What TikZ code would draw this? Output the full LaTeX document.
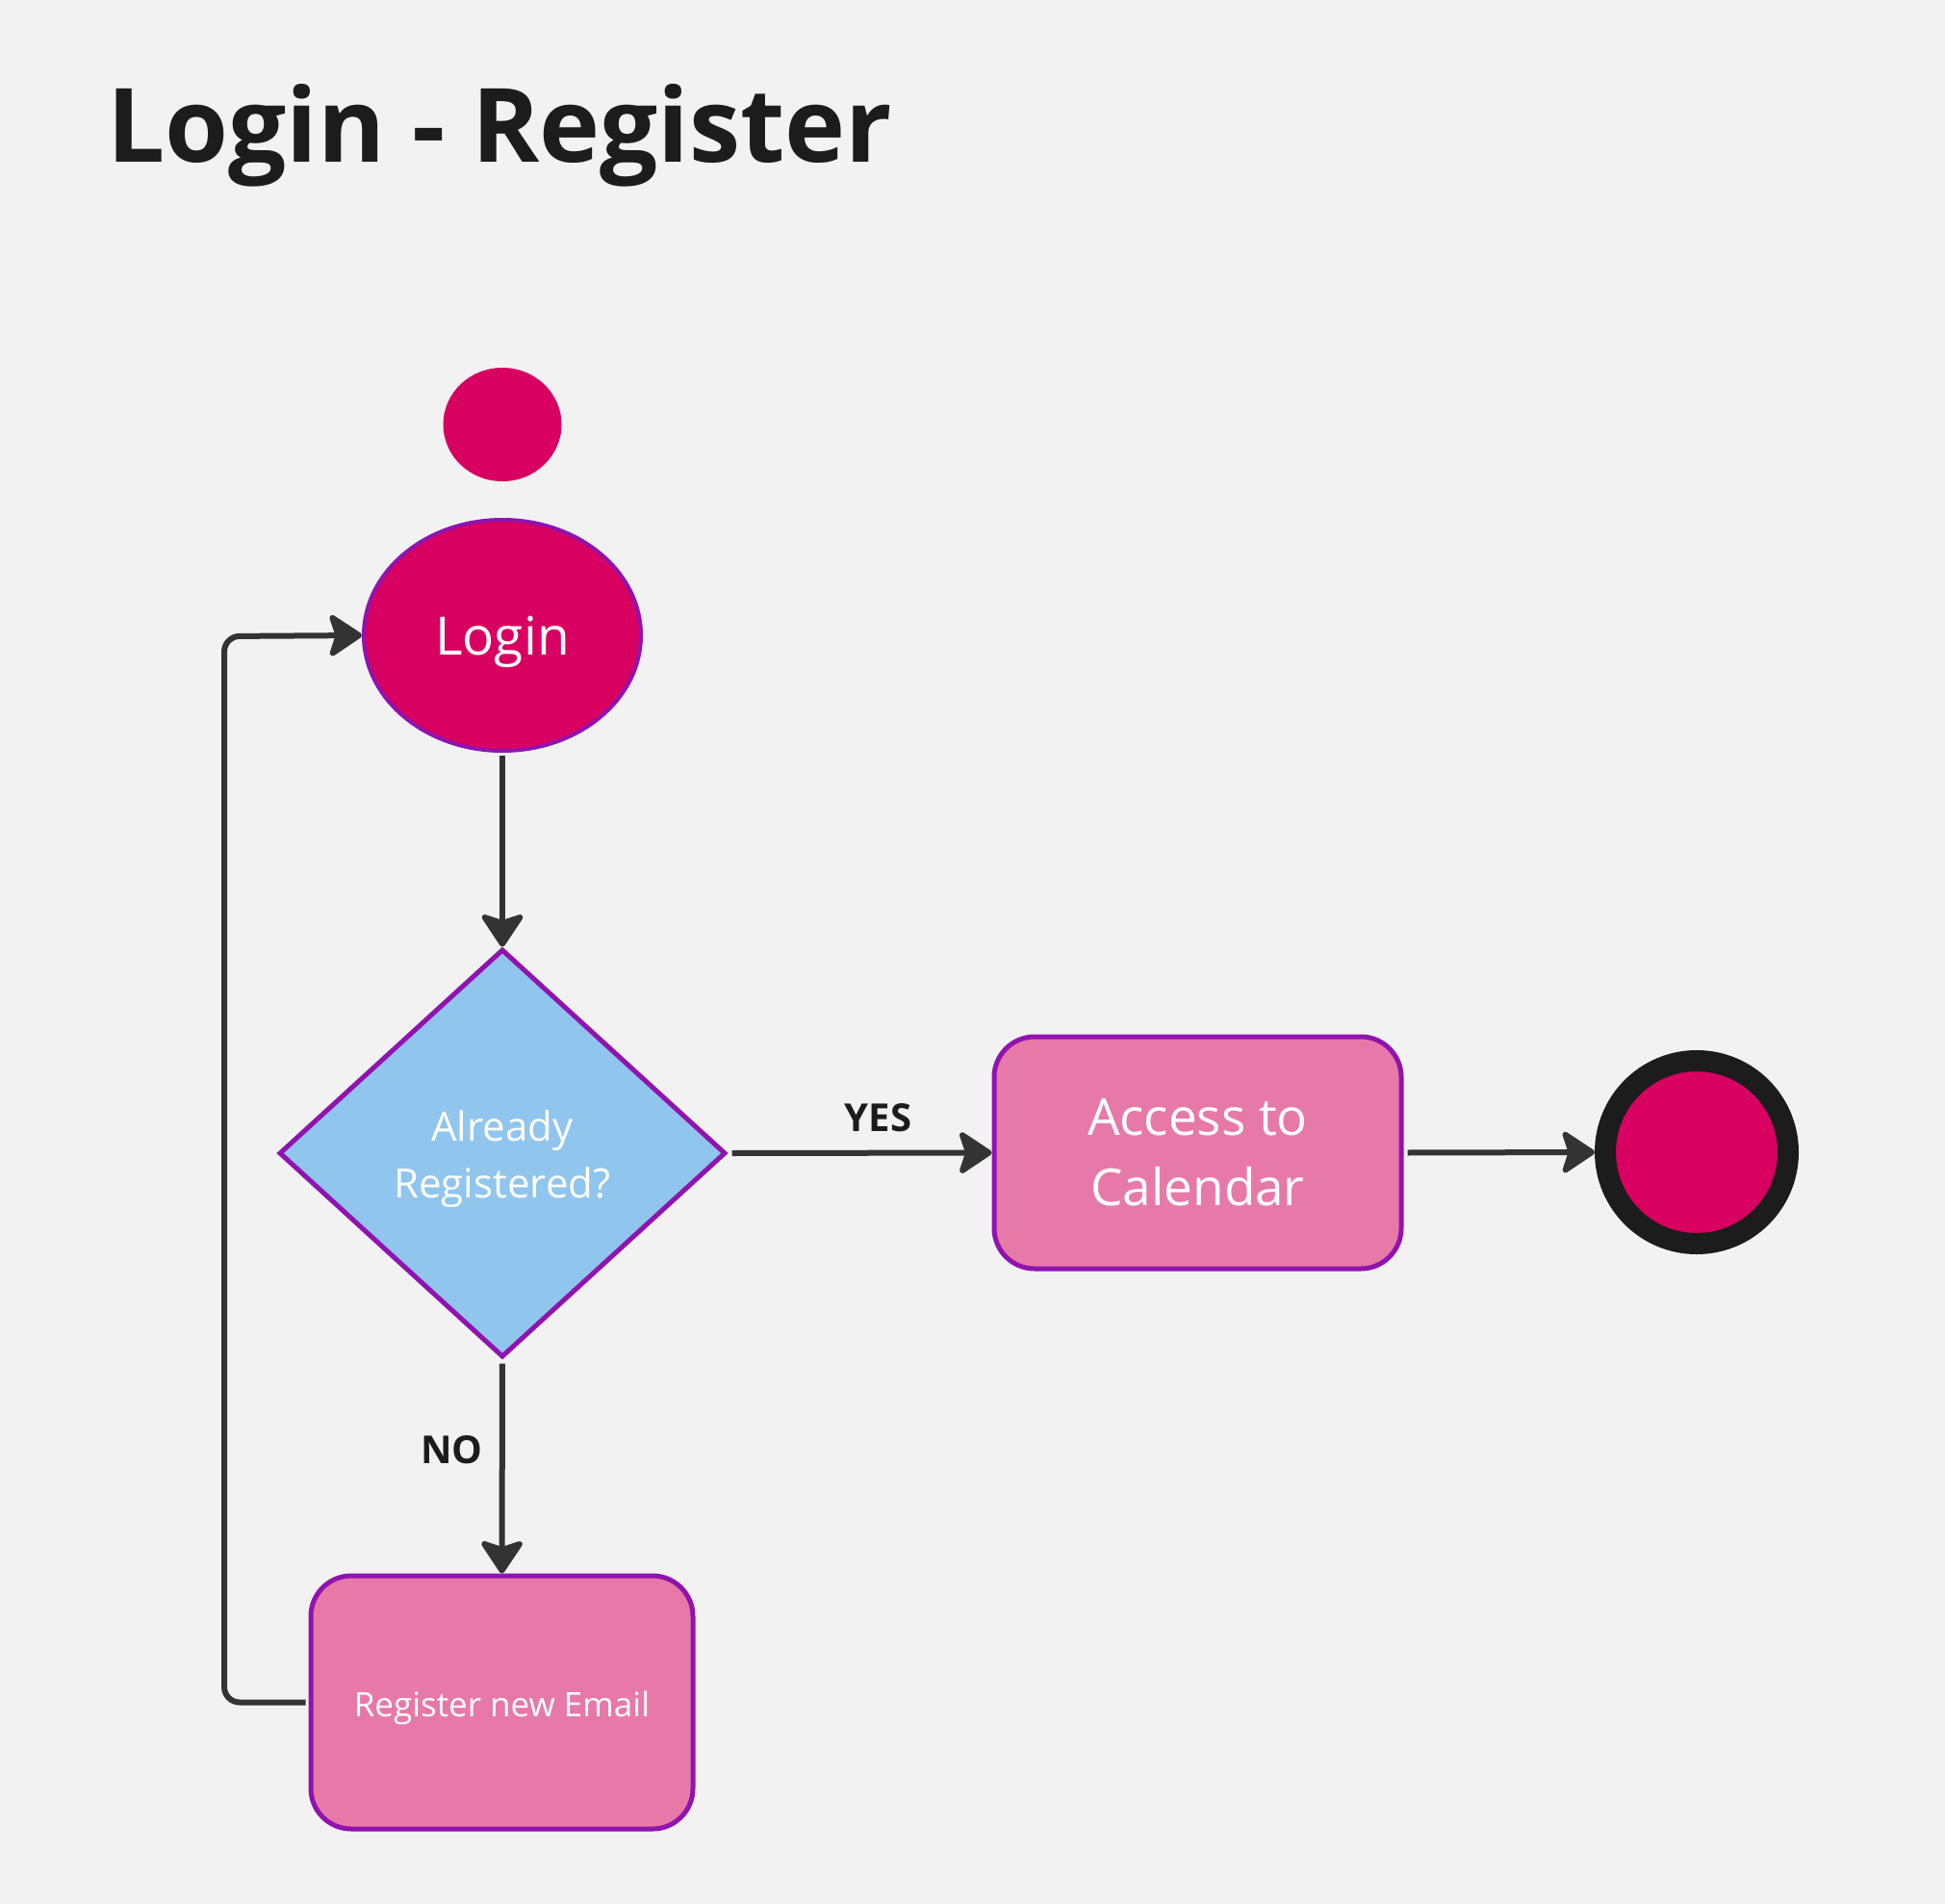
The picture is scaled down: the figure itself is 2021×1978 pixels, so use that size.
\documentclass[tikz,border=0pt]{standalone}
\usepackage{fontspec}
\setmainfont{Open Sans}
\usetikzlibrary{shapes.geometric,arrows.meta}
\definecolor{bg}{HTML}{F2F2F2}
\definecolor{magentafill}{HTML}{D80060}
\definecolor{pinkfill}{HTML}{E779A8}
\definecolor{bluefill}{HTML}{90C5EE}
\definecolor{purplestroke}{HTML}{9013AF}
\definecolor{arrowgray}{HTML}{333333}
\definecolor{titleblack}{HTML}{1C1C1C}
\begin{document}
\begin{tikzpicture}[x=1pt,y=-1pt,
  conn/.style={draw=arrowgray, line width=6pt, -{Stealth[length=38pt,width=50pt,inset=8pt,round]}},
  actbox/.style={draw=purplestroke, line width=5pt, fill=pinkfill, rounded corners=42pt, inner sep=0pt, text=white, align=center},
  lbl/.style={font=\bfseries\fontsize{40}{48}\selectfont, text=titleblack, inner sep=0pt}
]
\fill[bg] (0,0) rectangle (2021,1978);
\useasboundingbox (0,0) rectangle (2021,1978);

\node[anchor=base west, inner sep=0pt, text=titleblack, font=\bfseries\fontsize{106.7}{120}\selectfont] (title) at (111,168) {Login - Register};

\node[ellipse, fill=magentafill, minimum width=123pt, minimum height=118pt, inner sep=0pt] (start) at (522,441) {};

\node[ellipse, draw=purplestroke, line width=4pt, fill=magentafill, minimum width=288pt, minimum height=240pt, inner sep=0pt] (login) at (522,660) {};
\node[text=white, font=\fontsize{55}{66}\selectfont, inner sep=0pt] (logintext) at (522,667) {Login};

\node[diamond, draw=purplestroke, line width=5pt, fill=bluefill, minimum width=464pt, minimum height=424pt, inner sep=0pt] (decide) at (522,1198) {};
\node[text=white, align=center, font=\fontsize{42}{59}\selectfont, inner sep=0pt] (decidetext) at (522,1204) {Already\\Registered?};

\node[actbox, minimum width=423pt, minimum height=241pt, font=\fontsize{53}{73}\selectfont] (access) at (1244.5,1197.5) {Access to\\Calendar};

\node[circle, draw=titleblack, line width=22pt, fill=magentafill, minimum size=190pt, inner sep=0pt, outer sep=11pt] (finish) at (1763,1197) {};

\node[actbox, minimum width=397pt, minimum height=263pt] (reg) at (521.5,1768.5) {};
\node[text=white, font=\fontsize{35}{42}\selectfont, inner sep=0pt] (regtext) at (521.5,1774) {Register new Email};

\coordinate (loopc) at (233,661);

\draw[conn, shorten <=3pt] (login.south) -- (decide.north);
\draw[conn, shorten <=4pt] (decide.east) -- (access.west) node[lbl, pos=0.57, above=19pt] (yes) {YES};
\draw[conn, shorten <=4pt] (access.east) -- (finish.west);
\draw[conn, shorten <=4pt] (decide.south) -- (reg.north) node[lbl, pos=0.42, left=17pt] (no) {NO};
\draw[conn, rounded corners=16pt, shorten <=3pt] (reg.west) -| (loopc) -- (login.west);
\end{tikzpicture}
\end{document}
